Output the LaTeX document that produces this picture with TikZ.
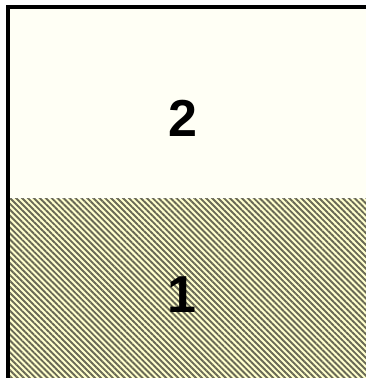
\documentclass[tikz,border=0pt]{standalone}
\usepackage{fontspec}
\setmainfont{Liberation Sans}
\usepackage{tikz}
\usetikzlibrary{patterns.meta}
\definecolor{paper}{RGB}{255,255,245}
\definecolor{straw}{RGB}{255,255,204}
\definecolor{hatchgray}{RGB}{105,105,85}

\begin{document}
\begin{tikzpicture}[x=1pt, y=1pt, regionlabel/.style={font=\fontsize{52}{62}\selectfont\bfseries}]
    \useasboundingbox (0,0) rectangle (366,378);

    % Corners
    \coordinate (TL) at (8,371);
    \coordinate (TR) at (366,371);
    \coordinate (ML) at (8,179);
    \coordinate (MR) at (366,179);
    \coordinate (BL) at (8,0);

    % Region 2
    \fill[paper] (ML) rectangle (TR);

    % Region 1 (hatched)
    \fill[straw] (BL) rectangle (MR);
    \fill[pattern={Lines[angle=-45, distance=4.2pt, line width=1.9pt]}, pattern color=hatchgray] (BL) rectangle (MR);

    % Border
    \draw[line width=3.5pt] (BL) -- (TL) -- (TR);

    % Labels
    \node[regionlabel] (r2) at (183,260) {2};
    \node[regionlabel] (r1) at (182,83) {1};
\end{tikzpicture}
\end{document}
